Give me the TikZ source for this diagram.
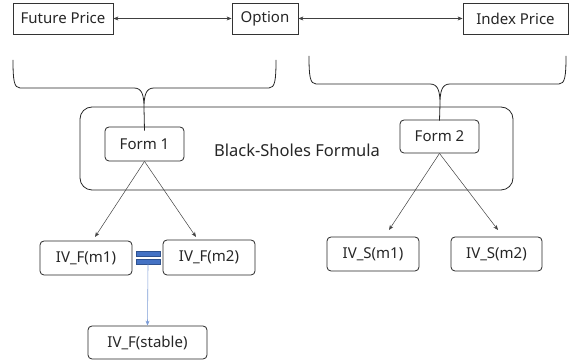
\documentclass[tikz,border=0pt]{standalone}
\usepackage{fontspec}
\setmainfont{Noto Sans}
\usetikzlibrary{arrows.meta}
\definecolor{linegray}{HTML}{404040}
\definecolor{eqblue}{HTML}{4472C4}
\definecolor{eqdark}{HTML}{2F528F}
\begin{document}
\begin{tikzpicture}[x=1pt,y=-1pt,
  txt/.style={font=\fontsize{15}{17}\selectfont, text=black!85},
  sqbox/.style={txt, draw=black!80, line width=0.8pt, inner sep=0pt},
  rbox/.style={txt, draw=black!85, line width=0.8pt, rounded corners=4pt, inner sep=0pt},
  conn/.style={draw=linegray, line width=0.5pt},
  tip/.style={-{Stealth[length=5pt,width=4pt]}},
  dtip/.style={{Stealth[length=5pt,width=4pt]}-{Stealth[length=5pt,width=4pt]}},
  brace/.style={draw=black!85, line width=0.8pt},
]
\useasboundingbox (0,0) rectangle (574,363);

% top row
\node[sqbox, minimum width=100pt, minimum height=31pt] (fp) at (63,18.5) {Future Price};
\node[sqbox, minimum width=66pt, minimum height=31pt] (opt) at (265,18.5) {Option};
\node[sqbox, minimum width=105pt, minimum height=31pt] (ip) at (515.5,18.5) {Index Price};
\draw[conn, dtip] (fp) -- (opt);
\draw[conn, dtip] (opt) -- (ip);

% braces
\coordinate (lt) at (144,108);
\coordinate (rt) at (440,104);
\draw[brace] (13,60) .. controls (13,80) and (14,88) .. (20,88) -- (134,88)
  .. controls (142,88) and (144,95) .. (lt)
  .. controls (144,95) and (146,88) .. (154,88) -- (269,88)
  .. controls (275,88) and (276,80) .. (276,60);
\draw[brace] (309,56) .. controls (309,76) and (310,84) .. (316,84) -- (430,84)
  .. controls (438,84) and (440,91) .. (rt)
  .. controls (440,91) and (442,84) .. (450,84) -- (559,84)
  .. controls (565,84) and (566,76) .. (566,56);

% big box
\node[draw=black!85, line width=0.8pt, rounded corners=12pt, minimum width=433pt, minimum height=83pt, inner sep=0pt] (bs) at (296.5,148.5) {};
\node[txt, font=\fontsize{16.5}{18}\selectfont] (bsl) at (297,150) {Black-Sholes Formula};

\node[rbox, minimum width=79pt, minimum height=34pt] (f1) at (144.5,144) {Form 1};
\node[rbox, minimum width=79pt, minimum height=33pt] (f2) at (439.5,136.5) {Form 2};

\draw[brace] (lt) -- ([yshift=-4pt]f1.north);
\draw[brace] (rt) -- ([yshift=-1pt]f2.north);

% lower nodes
\node[rbox, minimum width=92pt, minimum height=34pt] (m1) at (86,258) {IV\_F(m1)};
\node[rbox, minimum width=92pt, minimum height=35pt] (m2) at (209,257.5) {IV\_F(m2)};
\node[rbox, minimum width=92pt, minimum height=34pt] (s1) at (373,254) {IV\_S(m1)};
\node[rbox, minimum width=91pt, minimum height=34pt] (s2) at (496.5,254) {IV\_S(m2)};
\node[rbox, minimum width=119pt, minimum height=33pt] (st) at (147.5,342.5) {IV\_F(stable)};

\coordinate (a1) at (95,237);
\coordinate (a2) at (196,237);
\coordinate (b1) at (389,230);
\coordinate (b2) at (498,230);
\draw[conn, tip] (f1.south) -- (a1);
\draw[conn, tip] (f1.south) -- (a2);
\draw[conn, tip] (f2.south) -- (b1);
\draw[conn, tip] (f2.south) -- (b2);

% equals sign
\draw[draw=eqdark, fill=eqblue, line width=0.6pt] (136,251) rectangle (160,256);
\draw[draw=eqdark, fill=eqblue, line width=0.6pt] (136,259) rectangle (160,264.5);
\coordinate (eq) at (148,264.5);
\draw[draw=eqblue!70, line width=0.6pt, -{Stealth[length=5pt,width=4pt]}] (eq) -- (st.north);
\end{tikzpicture}
\end{document}
